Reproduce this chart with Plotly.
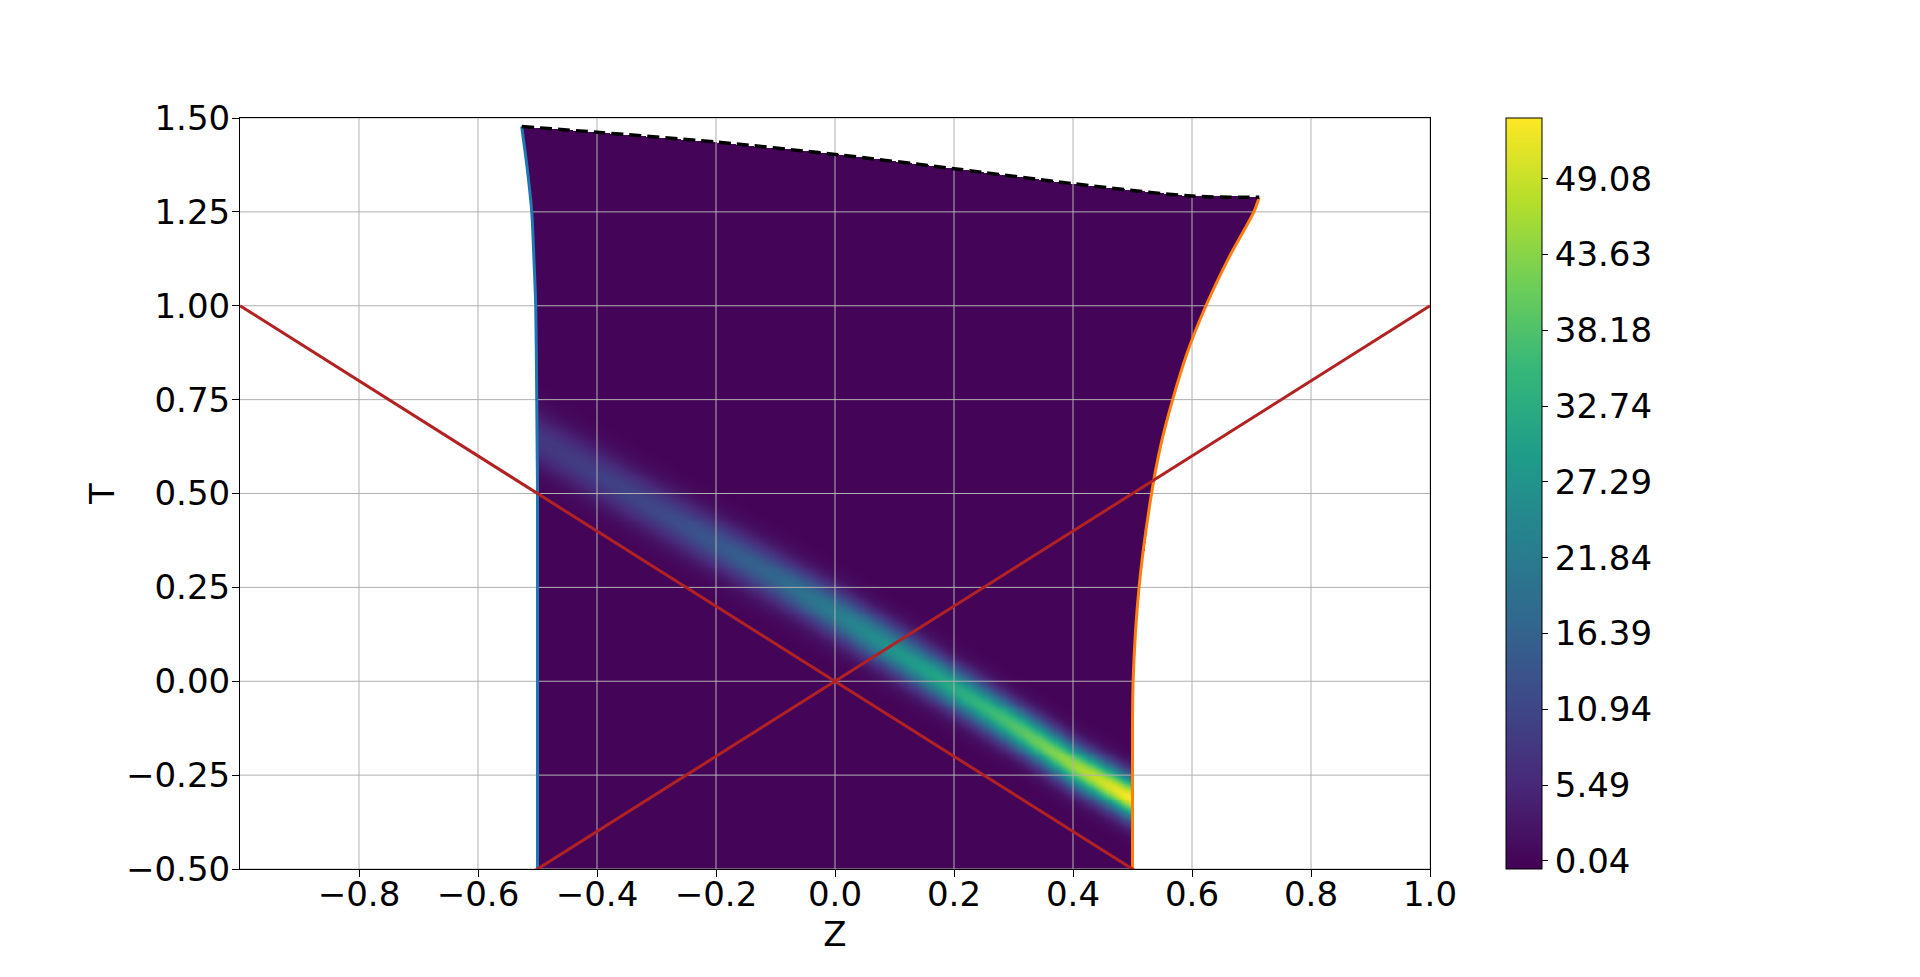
import numpy as np
import plotly.graph_objects as go

# ---- data ----
# left boundary (blue): Z as a function of T
left_t = [-0.5, 0.5, 0.75, 1.0, 1.125, 1.25, 1.375, 1.4774]
left_z = [-0.5, -0.5, -0.5013, -0.503, -0.506, -0.5097, -0.518, -0.5266]
# right boundary (orange): Z as a function of T
right_t = [-0.5, -0.25, 0.0, 0.25, 0.5, 0.625, 0.75, 0.875, 1.0, 1.125, 1.25, 1.289]
right_z = [0.5, 0.5, 0.501, 0.511, 0.532, 0.547, 0.5675, 0.592, 0.6235, 0.661, 0.704, 0.713]
# top boundary (black dashed): T as a function of Z
top_z = [-0.5266, -0.4, -0.2, 0.0, 0.2, 0.4, 0.6, 0.713]
top_t = [1.4774, 1.462, 1.436, 1.403, 1.365, 1.325, 1.292, 1.289]
# bright band: centre line, peak value and width along Z
band_z = [-0.5, -0.3, -0.1, 0.0, 0.1, 0.2, 0.3, 0.4, 0.5]
band_t = [0.645, 0.455, 0.275, 0.18, 0.08, -0.02, -0.12, -0.225, -0.315]
band_peak = [8.0, 11.0, 17.0, 22.0, 27.0, 32.0, 38.0, 45.0, 53.4]
band_sigma = [0.05, 0.048, 0.046, 0.045, 0.044, 0.042, 0.041, 0.040, 0.039]
background_value = 0.04
# colour bar
cbar_ticks = [0.04, 5.49, 10.94, 16.39, 21.84, 27.29, 32.74, 38.18, 43.63, 49.08]
cbar_min, cbar_max = -0.55, 53.45
# axes
x_ticks = [-0.8, -0.6, -0.4, -0.2, 0.0, 0.2, 0.4, 0.6, 0.8, 1.0]
y_ticks = [-0.5, -0.25, 0.0, 0.25, 0.5, 0.75, 1.0, 1.25, 1.5]
# light-cone lines
cone_z = [-1.0, 1.0]

# ---- field on a grid ----
zg = np.linspace(-0.53, 0.715, 700)
tg = np.linspace(-0.5, 1.48, 760)
Zm, Tm = np.meshgrid(zg, tg)
lz = np.interp(Tm, left_t, left_z)
rz = np.interp(Tm, right_t, right_z)
tt = np.interp(Zm, top_z, top_t)
inside = (Zm >= lz) & (Zm <= rz) & (Tm <= tt) & (Tm >= -0.5)
tc = np.interp(Zm, band_z, band_t)
amp = np.interp(Zm, band_z, band_peak)
sig = np.interp(Zm, band_z, band_sigma)
field = background_value + amp * np.exp(-0.5 * ((Tm - tc) / sig) ** 2)
field = np.where(inside, field, np.nan)

FONT = "DejaVu Sans"
FS = 34


def fmt(v, nd):
    s = f"{abs(v):.{nd}f}"
    return ("\u2212" + s) if v < 0 else s


fig = go.Figure()
fig.add_trace(go.Heatmap(
    x=zg, y=tg, z=field, colorscale="Viridis", zmin=cbar_min, zmax=cbar_max,
    hoverinfo="skip",
    colorbar=dict(
        thickness=36, thicknessmode="pixels", len=1, lenmode="fraction",
        x=1.0639, xanchor="left", xpad=0, y=0.5, yanchor="middle", ypad=0,
        outlinecolor="black", outlinewidth=1,
        ticks="outside", ticklen=6, tickcolor="black",
        tickvals=cbar_ticks, ticktext=[f"{v:.2f}" for v in cbar_ticks],
        tickfont=dict(family=FONT, size=FS, color="black"),
    ),
))

# grid lines drawn above the heatmap
gx, gy = [], []
for v in x_ticks:
    gx += [v, v, None]
    gy += [-0.5, 1.5, None]
for v in y_ticks:
    gx += [-1.0, 1.0, None]
    gy += [v, v, None]
fig.add_trace(go.Scatter(x=gx, y=gy, mode="lines", line=dict(color="#b0b0b0", width=1),
                         hoverinfo="skip", showlegend=False))

# boundaries
fig.add_trace(go.Scatter(x=left_z, y=left_t, mode="lines",
                         line=dict(color="#1f77b4", width=3, shape="spline", smoothing=0.8),
                         showlegend=False))
fig.add_trace(go.Scatter(x=right_z, y=right_t, mode="lines",
                         line=dict(color="#ff7f0e", width=3, shape="spline", smoothing=0.8),
                         showlegend=False))
fig.add_trace(go.Scatter(x=top_z, y=top_t, mode="lines",
                         line=dict(color="black", width=3.5, dash="12px,6px", shape="spline", smoothing=0.8),
                         showlegend=False))

# light-cone lines
fig.add_trace(go.Scatter(x=cone_z, y=[-v for v in cone_z], mode="lines",
                         line=dict(color="#b22222", width=3), showlegend=False))
fig.add_trace(go.Scatter(x=cone_z, y=list(cone_z), mode="lines",
                         line=dict(color="#b22222", width=3), showlegend=False))

axis_common = dict(
    showgrid=False, zeroline=False, showline=True, mirror=True, linecolor="black", linewidth=1,
    ticks="outside", ticklen=7, tickcolor="black", tickwidth=1,
    tickfont=dict(family=FONT, size=FS, color="black"),
)
fig.update_layout(
    width=1920, height=977,
    margin=dict(l=232, r=498, t=110, b=116),
    paper_bgcolor="white", plot_bgcolor="white",
    font=dict(family=FONT, size=FS, color="black"),
    showlegend=False,
    xaxis=dict(range=[-1.0, 1.0], tickvals=x_ticks, ticktext=[fmt(v, 1) for v in x_ticks],
               title=dict(text="Z", font=dict(family=FONT, size=FS), standoff=6), **axis_common),
    yaxis=dict(range=[-0.5, 1.5], tickvals=y_ticks, ticktext=[fmt(v, 2) for v in y_ticks],
               title=dict(text="T", font=dict(family=FONT, size=FS), standoff=1), **axis_common),
)
try:
    fig.update_xaxes(ticklabelstandoff=-12)
    fig.update_yaxes(ticklabelstandoff=-5)
except Exception:
    pass
fig.write_html("out.html")
